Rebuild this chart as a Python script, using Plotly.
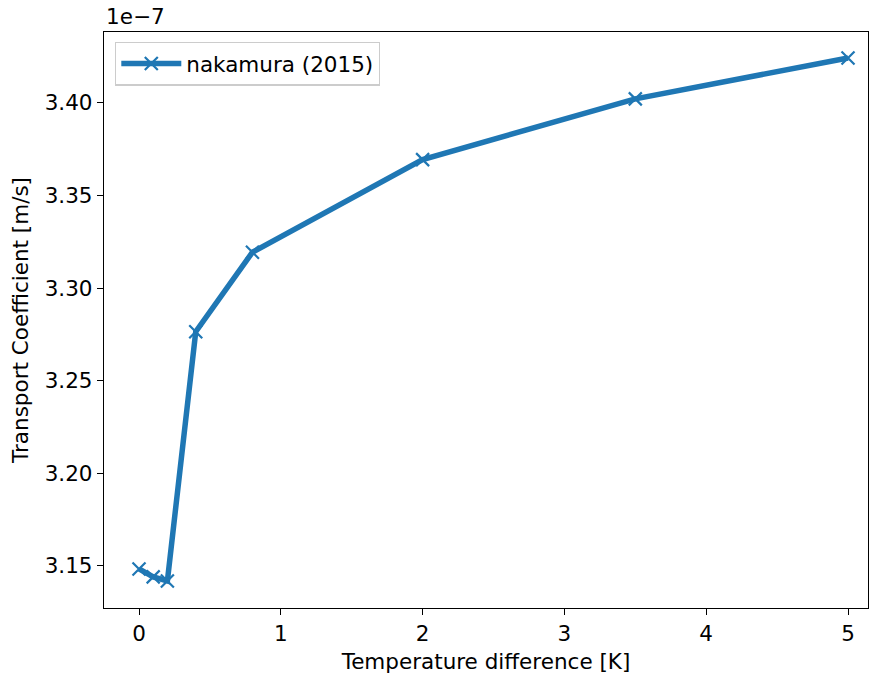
import plotly.graph_objects as go

# Transport coefficient vs. temperature difference
temp_diff = [0.0, 0.1, 0.2, 0.4, 0.8, 2.0, 3.5, 5.0]
transport_coeff = [3.1484e-7, 3.1441e-7, 3.1419e-7, 3.2765e-7, 3.3194e-7,
                   3.3694e-7, 3.4022e-7, 3.4243e-7]
series_name = "nakamura (2015)"
y_scale = 1e-7
y_ticks = [3.15, 3.20, 3.25, 3.30, 3.35, 3.40]
x_ticks = [0, 1, 2, 3, 4, 5]

FONT = "DejaVu Sans"
FS = 21.5
BLUE = "#1f77b4"

fig = go.Figure()
fig.add_trace(go.Scatter(
    x=temp_diff,
    y=[v / y_scale for v in transport_coeff],
    mode="lines+markers",
    name=series_name,
    line=dict(color=BLUE, width=5.5),
    marker=dict(symbol="x-thin", size=13, line=dict(color=BLUE, width=2.2), color=BLUE),
))

axis_common = dict(
    showline=True, linecolor="black", linewidth=1.3, mirror=True,
    ticks="outside", ticklen=6, tickwidth=1.3, tickcolor="black",
    showgrid=False, zeroline=False,
    tickfont=dict(family=FONT, size=FS, color="black"),
)

fig.update_layout(
    width=869, height=677,
    margin=dict(l=104, r=1, t=32, b=69),
    paper_bgcolor="white", plot_bgcolor="white",
    font=dict(family=FONT, size=FS, color="black"),
    xaxis=dict(
        range=[-0.247, 5.141], tickvals=x_ticks,
        title=dict(text="Temperature difference [K]", font=dict(family=FONT, size=FS), standoff=8),
        **axis_common,
    ),
    yaxis=dict(
        range=[3.1273, 3.4383], tickvals=y_ticks,
        ticktext=[f"{t:.2f}" for t in y_ticks],
        title=dict(text="Transport Coefficient [m/s]", font=dict(family=FONT, size=FS), standoff=10),
        **axis_common,
    ),
    showlegend=True,
    legend=dict(
        x=0.0144, y=0.983, xanchor="left", yanchor="top",
        bgcolor="rgba(255,255,255,0.8)", bordercolor="#cccccc", borderwidth=1.3,
        font=dict(family=FONT, size=FS), itemwidth=60,
    ),
    annotations=[dict(
        text="1e\u22127", xref="paper", yref="paper", x=0, y=1,
        xanchor="left", yanchor="bottom", yshift=1, showarrow=False,
        font=dict(family=FONT, size=FS, color="black"),
    )],
)

fig.write_html("out.html")
